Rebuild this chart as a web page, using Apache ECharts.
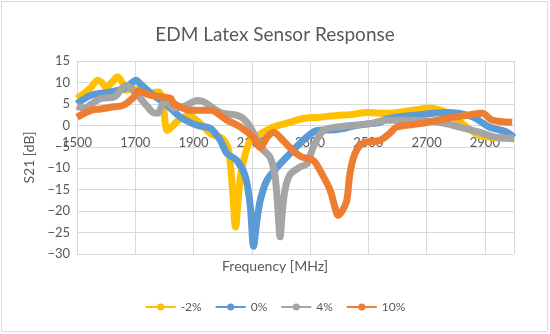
<!DOCTYPE html>
<html><head><meta charset="utf-8">
<script src="https://cdn.jsdelivr.net/npm/echarts@6/dist/echarts.min.js"></script>
<style>html,body{margin:0;padding:0;background:#fff}#c{width:550px;height:334px}</style>
</head><body><div id="c"></div>
<script>
const seriesNames = ['-2%', '0%', '4%', '10%'];
const yTicks = [-30, -25, -20, -15, -10, -5, 0, 5, 10, 15];
const xTicks = [1500, 1700, 1900, 2100, 2300, 2500, 2700, 2900];

const sM2 = [[1500,6.3],[1525,7.5],[1550,9],[1571,10.5],[1585,10],[1600,8.9],[1620,10],[1639,11.3],[1655,10],[1668,8.2],[1700,8.5],[1740,7.5],[1780,7.8],[1795,5],[1810,-1.2],[1830,0],[1849,1.2],[1884,2.3],[1930,0],[1960,-2],[1998,-3],[2020,-5.8],[2035,-16],[2044,-23.7],[2055,-16],[2061,-12],[2078,-6.6],[2095,-3.5],[2129,-2],[2174,-0.4],[2220,0.5],[2276,1.6],[2334,1.9],[2392,2.3],[2440,2.5],[2494,3],[2563,2.8],[2652,3.5],[2710,4],[2768,3],[2820,0.5],[2871,-2],[2915,-2.8],[2973,-3],[3000,-3.2]];
const s0 = [[1500,5],[1548,7],[1616,7.8],[1662,8.6],[1690,10],[1702,10.5],[1720,9.5],[1753,7.5],[1810,4.7],[1855,1.9],[1912,0],[1958,-0.7],[1992,-3.5],[2015,-6.6],[2049,-8.2],[2078,-12],[2095,-19],[2106,-28.2],[2118,-22],[2129,-17.5],[2152,-12.8],[2197,-9],[2231,-6.6],[2276,-3.5],[2324,-1.2],[2392,-1],[2461,0],[2540,0.7],[2563,1.5],[2652,2.3],[2768,3],[2857,2],[2915,-0.4],[2973,-1.5],[3000,-2.8]];
const s4 = [[1500,4.5],[1524,4],[1550,5],[1582,6.3],[1627,6.6],[1668,9.3],[1708,7],[1740,4.5],[1760,3],[1777,2.8],[1795,5],[1811,5.4],[1832,4],[1870,4.5],[1913,5.8],[1935,5.5],[1992,3],[2050,2.3],[2070,1.6],[2095,-0.4],[2129,-5],[2163,-7.5],[2180,-12],[2190,-20],[2197,-26],[2205,-20],[2214,-15],[2231,-11.5],[2266,-9.7],[2290,-8.9],[2311,-5],[2345,-1.2],[2392,-0.4],[2505,0.4],[2563,1.2],[2652,1.2],[2744,0.7],[2813,-0.4],[2881,-1.6],[2939,-2.8],[3000,-3]];
const s10 = [[1500,1.9],[1548,3.5],[1580,3.8],[1616,4.2],[1660,4.7],[1695,6.6],[1710,8],[1753,7],[1821,6.3],[1832,5.1],[1890,3.5],[1958,3.5],[2015,1.2],[2061,-0.4],[2105,-2.8],[2129,-5.2],[2152,-2.8],[2175,-1.6],[2197,-2.8],[2231,-5.2],[2266,-7.2],[2311,-8.2],[2334,-10.5],[2368,-15],[2385,-19],[2396,-21],[2410,-20],[2426,-17.5],[2437,-11.2],[2454,-6.6],[2481,-4.2],[2540,-3.5],[2573,-1.9],[2597,-0.4],[2676,0.4],[2768,1.6],[2836,2.3],[2891,2.8],[2925,1.2],[2994,0.7]];

const allData = [sM2, s0, s4, s10];
const colors = ['#FFC000', '#5B9BD5', '#A5A5A5', '#ED7D31'];
const FONT = 'Lato';
const txt = '#595959';
const gridTop = 61, gridBottom = 80, H = 334;
const yMin = yTicks[0], yMax = yTicks[yTicks.length - 1];
// shift x axis up from the grid bottom to the y = 0 line (axis crosses at 0, like the original)
const xAxisOffset = -(H - gridTop - gridBottom) * (0 - yMin) / (yMax - yMin);

const chart = echarts.init(document.getElementById('c'), null, {renderer: 'canvas'});
chart.setOption({
  animation: false,
  color: colors,
  title: {
    text: 'EDM Latex Sensor Response', left: 'center', top: 20,
    textStyle: {fontFamily: FONT, fontSize: 19, fontWeight: 'normal', color: txt}
  },
  graphic: [
    {type: 'rect', shape: {x: 1.5, y: 1.5, width: 546, height: 330}, style: {fill: 'none', stroke: '#d9d9d9', lineWidth: 1}, silent: true},
    {type: 'text', left: 'center', top: 259, style: {text: 'Frequency [MHz]', font: '14px ' + FONT, fill: txt}, silent: true}
  ],
  legend: {
    data: seriesNames, top: 296, left: 'center', itemWidth: 30, itemHeight: 9, itemGap: 13,
    textStyle: {fontFamily: FONT, fontSize: 12, color: txt}
  },
  grid: {left: 77, right: 36, top: gridTop, bottom: gridBottom, containLabel: false, outerBoundsMode: 'none'},
  xAxis: {
    type: 'value', min: xTicks[0], max: 3000, interval: 200, position: 'bottom', offset: xAxisOffset,
    axisLine: {show: true, onZero: false, lineStyle: {color: '#d9d9d9'}},
    axisTick: {show: false},
    axisLabel: {fontFamily: FONT, fontSize: 13, color: txt, margin: 11, showMaxLabel: false,
      formatter: v => String(v)},
    splitLine: {show: true, lineStyle: {color: '#d9d9d9'}}
  },
  yAxis: {
    type: 'value', min: yMin, max: yMax, interval: 5,
    name: 'S21 [dB]', nameLocation: 'middle', nameGap: 40, nameRotate: 90,
    nameTextStyle: {fontFamily: FONT, fontSize: 14, color: txt},
    axisLine: {show: false}, axisTick: {show: false},
    axisLabel: {fontFamily: FONT, fontSize: 13, color: txt, margin: 7,
      formatter: v => (v < 0 ? '\u2212' + Math.abs(v) : String(v))},
    splitLine: {show: true, lineStyle: {color: '#d9d9d9'}}
  },
  series: allData.map((d, i) => ({
    name: seriesNames[i], type: 'line', data: d, smooth: 0.3,
    symbol: 'circle', symbolSize: 7, showSymbol: false,
    lineStyle: {width: 7, color: colors[i]}, itemStyle: {color: colors[i]}
  }))
});
</script></body></html>
